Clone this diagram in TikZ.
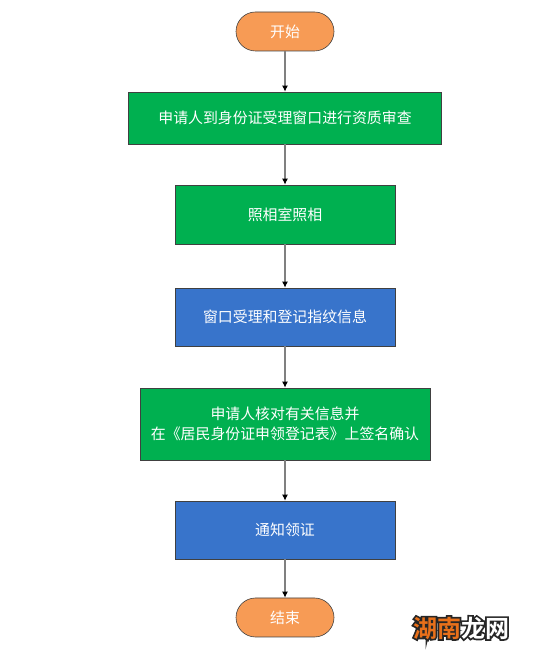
\documentclass[tikz,border=0pt]{standalone}
\usepackage{fontspec}
\usetikzlibrary{arrows.meta}
\newfontfamily\cjk{Noto Sans CJK SC}
\newfontfamily\cjkbold{Noto Sans CJK SC Bold}
\newfontfamily\cjkhalo[FakeBold=14]{Noto Sans CJK SC Bold}
\definecolor{flowgreen}{HTML}{00B050}
\definecolor{flowblue}{HTML}{3874CB}
\definecolor{floworange}{HTML}{F79B55}
\definecolor{markorange}{HTML}{E8701A}
\tikzset{
    basebox/.style={draw=black!75, line width=0.6pt, text=white, align=center, font=\cjk\fontsize{14.9}{20}\selectfont},
    greenbox/.style={basebox, fill=flowgreen, minimum height=#1},
    bluebox/.style={basebox, fill=flowblue, minimum width=220pt, minimum height=58pt},
    endbox/.style={basebox, fill=floworange, rounded corners=19.5pt, minimum width=98pt, minimum height=39pt},
    flow/.style={draw=black!50, line width=1.6pt, -{Latex[black,length=6pt,width=6pt]}}
}
\begin{document}
\begin{tikzpicture}[x=1pt,y=1pt]
    \useasboundingbox (0,0) rectangle (543,655);

    \node[endbox] (start) at (285,623.5) {开始};
    \node[greenbox=52pt, minimum width=313pt] (check) at (285,537) {申请人到身份证受理窗口进行资质审查};
    \node[greenbox=59pt, minimum width=220pt] (photo) at (285,440.5) {照相室照相};
    \node[bluebox] (finger) at (285,338) {窗口受理和登记指纹信息};
    \node[greenbox=72pt, minimum width=290pt] (sign) at (285,231) {申请人核对有关信息并\\在《居民身份证申领登记表》上签名确认};
    \node[bluebox] (notice) at (285,125) {通知领证};
    \node[endbox] (finish) at (285,37.5) {结束};

    \draw[flow] (start) -- (check);
    \draw[flow] (check) -- (photo);
    \draw[flow] (photo) -- (finger);
    \draw[flow] (finger) -- (sign);
    \draw[flow] (sign) -- (notice);
    \draw[flow] (notice) -- (finish);

    \node[inner sep=0pt, text=black!85, font=\cjkhalo\fontsize{24}{24}\selectfont] (halo) at (461,27) {湖南龙网};
    \node[inner sep=0pt, font=\cjkbold\fontsize{24}{24}\selectfont] (mark) at (461,27) {\textcolor{markorange}{湖南}\textcolor{white}{龙网}};
\end{tikzpicture}
\end{document}
